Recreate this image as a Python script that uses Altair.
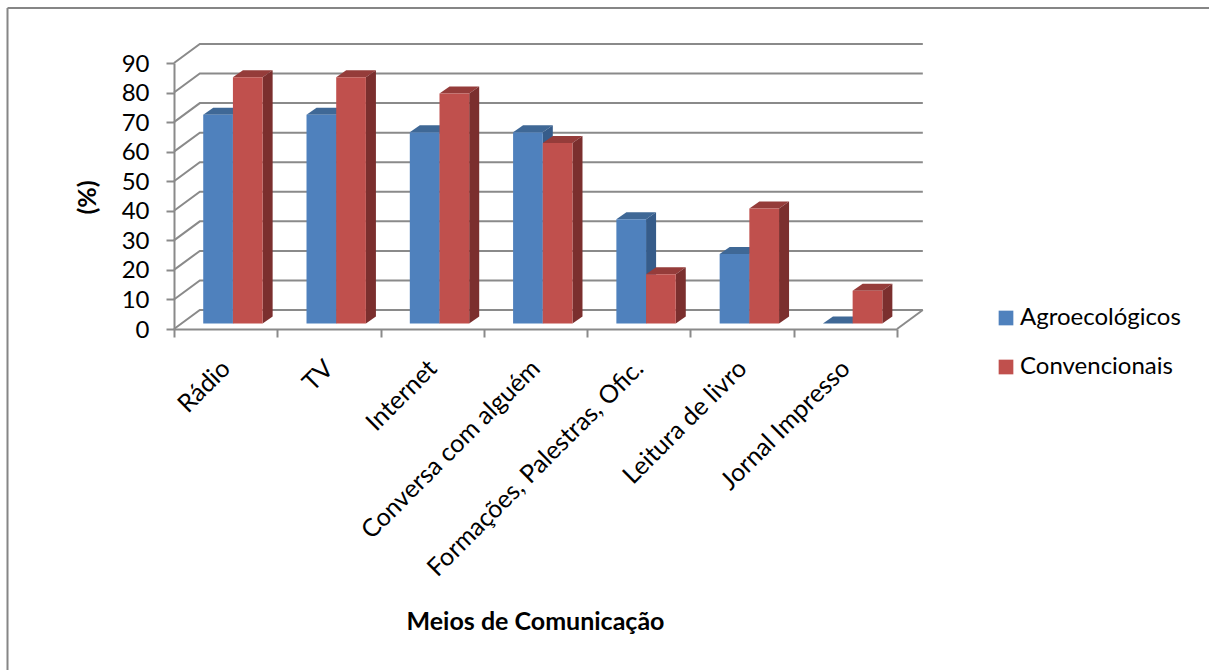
import altair as alt
import pandas as pd

categories = ["Rádio", "TV", "Internet", "Conversa com alguém",
              "Formações, Palestras, Ofic.", "Leitura de livro", "Jornal Impresso"]
agroecologicos = [70.6, 70.6, 64.7, 64.7, 35.3, 23.5, 0.0]
convencionais = [83.3, 83.3, 77.8, 61.1, 16.7, 38.9, 11.1]
series_names = ["Agroecológicos", "Convencionais"]
y_ticks = list(range(0, 100, 10))

FONT = "Lato"
AXIS_GRAY = "#8a8a8a"

# Oblique projection: how far the back wall sits from the front plane, in data units.
WALL_DX, WALL_DY = 0.25, 6.43
# Bar placement inside a category, and the bar's own depth.
BAR_START, BAR_WIDTH = 0.283, 0.2875
BAR_DX, BAR_DY = 0.097, 2.37
BAR_BASE = 1.86

shades = {
    series_names[0]: "#4F81BD",
    series_names[1]: "#C0504D",
    series_names[0] + " topo": "#3F6896",
    series_names[0] + " lado": "#365C8A",
    series_names[1] + " topo": "#953C3A",
    series_names[1] + " lado": "#7B2F2E",
}
color_scale = alt.Scale(domain=list(shades), range=list(shades.values()))
x_scale = alt.Scale(domain=[0, len(categories)], nice=False, zero=False)
y_scale = alt.Scale(domain=[0, 90], nice=False)

# Ticks fall on category boundaries, labels on category centres.
x_axis = alt.Axis(
    values=[i / 2 for i in range(2 * len(categories) + 1)],
    labelExpr="datum.value % 1 == 0 ? '' : " + str(categories) + "[floor(datum.value)]",
    labelAngle=-45, labelAlign="right", labelBaseline="middle",
    labelFont=FONT, labelFontSize=25, labelColor="#000000", labelPadding=27,
    labelOverlap=False, labelBound=False, labelFlush=False, labelLimit=500,
    tickOpacity={"expr": "datum.value % 1 == 0 ? 1 : 0"},
    tickSize=8, tickWidth=2, tickColor=AXIS_GRAY,
    domainColor=AXIS_GRAY, domainWidth=2, grid=False,
    title="Meios de Comunicação", titleFont=FONT, titleFontSize=25,
    titleFontWeight="bold", titleColor="#000000",
    titleX=361, titleY=292, titleBaseline="middle", titleAlign="center",
)
y_axis = alt.Axis(
    values=y_ticks, labelFont=FONT, labelFontSize=24, labelColor="#000000",
    labelPadding=17, labelOffset=1, labelOverlap=False, labelBound=False, labelFlush=False,
    tickSize=8, tickWidth=2, tickColor=AXIS_GRAY,
    domainColor=AXIS_GRAY, domainWidth=2, grid=False,
    title="(%)", titleFont=FONT, titleFontSize=25, titleFontWeight="bold",
    titleColor="#000000", titleX=-87, titleY=134,
    titleBaseline="middle", titleAlign="center",
)
x_enc = alt.X("x:Q", scale=x_scale, axis=x_axis)
y_enc = alt.Y("y:Q", scale=y_scale, axis=y_axis)

# Back wall gridlines with their diagonal run to the front plane, plus the floor's right edge.
wall_rows = []
for v in y_ticks:
    wall_rows += [
        {"line": v, "x": 0, "y": v},
        {"line": v, "x": WALL_DX, "y": v + WALL_DY},
        {"line": v, "x": len(categories) + WALL_DX, "y": v + WALL_DY},
    ]
wall_rows += [
    {"line": "edge", "x": len(categories), "y": 0},
    {"line": "edge", "x": len(categories) + WALL_DX, "y": WALL_DY},
]
walls = alt.Chart(pd.DataFrame(wall_rows)).mark_line(
    color=AXIS_GRAY, strokeWidth=2
).encode(x=x_enc, y=y_enc, detail="line:N")


def bar_layers(values, series, slot):
    """Top and side parallelograms plus the front rectangle of one series."""
    fronts, faces = [], []
    for i, value in enumerate(values):
        left = i + BAR_START + slot * BAR_WIDTH
        right = left + BAR_WIDTH
        top = value + BAR_BASE
        bottom = BAR_BASE
        fronts.append({"x": left, "x2": right, "y": top, "y2": bottom, "shade": series})
        face_top = f"{i}-top"
        for px, lo, hi in [
            (left, top, top),
            (left + BAR_DX, top, top + BAR_DY),
            (right, top, top + BAR_DY),
            (right + BAR_DX, top + BAR_DY, top + BAR_DY),
        ]:
            faces.append({"face": face_top, "x": px, "y": hi, "y2": lo, "shade": series + " topo"})
        if value > 0:
            face_side = f"{i}-side"
            for px, lo, hi in [
                (right, bottom, top),
                (right + BAR_DX, bottom + BAR_DY, top + BAR_DY),
            ]:
                faces.append({"face": face_side, "x": px, "y": hi, "y2": lo, "shade": series + " lado"})

    legend = alt.Legend(
        values=series_names, orient="none", legendX=820, legendY=243, title=None,
        symbolType="square", symbolSize=216, symbolStrokeWidth=0,
        labelFont=FONT, labelFontSize=24, labelColor="#000000", labelOffset=2,
        rowPadding=25, padding=0, labelLimit=300,
    )
    color = alt.Color("shade:N", scale=color_scale, legend=legend)
    depth = alt.Chart(pd.DataFrame(faces)).mark_area(opacity=1, line=False).encode(
        x=x_enc, y=y_enc, y2="y2:Q", color=color, detail="face:N",
    )
    front = alt.Chart(pd.DataFrame(fronts)).mark_rect().encode(
        x=x_enc, x2="x2:Q", y=y_enc, y2="y2:Q", color=color,
    )
    return [depth, front]


# Outer chart frame, running off the right and bottom of the page.
frame_left = alt.Chart(pd.DataFrame({"k": [0]})).mark_rule(color="#868686", strokeWidth=2).encode(
    x=alt.value(-166.5), y=alt.value(-55), y2=alt.value(620)
)
frame_top = alt.Chart(pd.DataFrame({"k": [0]})).mark_rule(color="#868686", strokeWidth=2).encode(
    x=alt.value(-166.5), x2=alt.value(1050), y=alt.value(-55)
)

chart = alt.layer(
    frame_left, frame_top, walls,
    *bar_layers(agroecologicos, series_names[0], 0),
    *bar_layers(convencionais, series_names[1], 1),
).properties(
    width=723, height=266,
    padding={"left": 174, "top": 63, "right": 312, "bottom": 341},
    autosize=alt.AutoSizeParams(type="none"),
    background="#ffffff",
).configure_view(stroke=None)

chart.save("out.html", embed_options={"renderer": "svg", "actions": False})
